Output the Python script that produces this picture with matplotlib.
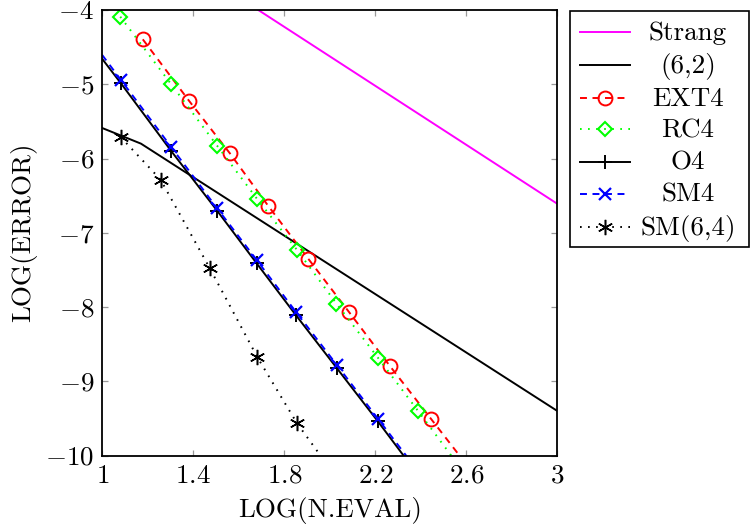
import numpy as np
import matplotlib
matplotlib.use("Agg")
import matplotlib.pyplot as plt
from matplotlib.lines import Line2D
from matplotlib.patches import Rectangle

# ---- data (x = log10 of evaluations, y = log10 of error)
strang_x = [1.60, 3.00]
strang_y = [-3.83, -6.61]

s62_x = [1.00, 1.17, 3.00]
s62_y = [-5.59, -5.80, -9.40]

ext4_x = [1.178, 1.382, 1.561, 1.730, 1.905, 2.086, 2.265, 2.444, 2.623]
ext4_y = [-4.395, -5.226, -5.931, -6.641, -7.349, -8.074, -8.798, -9.503, -10.21]

rc4_x = [1.079, 1.303, 1.505, 1.681, 1.855, 2.029, 2.211, 2.389, 2.565]
rc4_y = [-4.090, -5.001, -5.829, -6.547, -7.228, -7.953, -8.681, -9.404, -10.13]

o4_x = [0.90, 1.082, 1.302, 1.505, 1.679, 1.851, 2.030, 2.211, 2.39]
o4_y = [-4.26, -4.988, -5.896, -6.704, -7.414, -8.110, -8.820, -9.539, -10.27]

sm4_x = [0.90, 1.082, 1.302, 1.505, 1.679, 1.851, 2.030, 2.211, 2.39]
sm4_y = [-4.20, -4.943, -5.842, -6.672, -7.369, -8.066, -8.777, -9.503, -10.22]

sm64_x = [1.081, 1.256, 1.473, 1.681, 1.855, 2.03]
sm64_y = [-5.712, -6.284, -7.481, -8.673, -9.562, -10.30]

xticks = [1, 1.4, 1.8, 2.2, 2.6, 3]
xtick_labels = ["$1$", "$1.4$", "$1.8$", "$2.2$", "$2.6$", "$3$"]
yticks = [-10, -9, -8, -7, -6, -5, -4]
ytick_labels = ["$-10$", "$-9$", "$-8$", "$-7$", "$-6$", "$-5$", "$-4$"]

names = ["Strang", "(6,2)", "EXT4", "RC4", "O4", "SM4", "SM(6,4)"]

# ---- style
plt.rcParams['font.family'] = 'cmr10'
plt.rcParams['mathtext.fontset'] = 'cm'
plt.rcParams['axes.formatter.use_mathtext'] = True
plt.rcParams['lines.scale_dashes'] = False

fs = 19.5
lw = 1.4
dash = (0, (5, 4))
dot = (0, (1.2, 4.6))
aster = (6, 2, 0)

styles = [
  dict(color='#ff00ff', lw=lw, ls='-'),
  dict(color='black', lw=lw, ls='-'),
  dict(color='#ff0000', lw=lw, ls=dash, marker='o', ms=10, mfc='none', mew=1.4),
  dict(color='#00ff00', lw=lw, ls=dot, marker='D', ms=7.5, mfc='none', mew=1.5),
  dict(color='black', lw=lw, ls='-', marker='+', ms=10, mew=1.4),
  dict(color='#0000ff', lw=lw, ls=dash, marker='x', ms=8, mew=1.6),
  dict(color='black', lw=lw, ls=dot, marker=aster, ms=11, mew=1.1),
]
series = [(strang_x, strang_y), (s62_x, s62_y), (ext4_x, ext4_y), (rc4_x, rc4_y),
          (o4_x, o4_y), (sm4_x, sm4_y), (sm64_x, sm64_y)]

W, H = 750, 529
fig = plt.figure(figsize=(W/100, H/100), dpi=100)
ax = fig.add_axes([102.3/W, 1 - 455.5/H, 455/W, 445.5/H])

for (x, y), st in zip(series, styles):
  ax.plot(x, y, **st)

ax.set_xlim(1, 3)
ax.set_ylim(-10, -4)
ax.set_xticks(xticks)
ax.set_xticklabels(xtick_labels)
ax.set_yticks(yticks)
ax.set_yticklabels(ytick_labels)
ax.tick_params(direction='in', length=4, width=0.9, color='#999999',
               top=True, right=True, pad=6, labelsize=fs)
for s in ax.spines.values():
  s.set_linewidth(1.3)
ax.set_xlabel("LOG(N.EVAL)", fontsize=fs, labelpad=7)
ax.set_ylabel("LOG(ERROR)", fontsize=fs, labelpad=6)

# ---- legend drawn by hand (text centred like the original)
def fx(px): return px / W
def fy(py): return 1 - py / H

fig.add_artist(Rectangle((fx(570), fy(247)), fx(749) - fx(570), fy(10.7) - fy(247),
                         transform=fig.transFigure, fill=False, lw=1.2, ec='black'))
rows = [32.3, 65, 97.7, 129, 162, 193.5, 226.5]
for name, st, yy in zip(names, styles, rows):
  fig.add_artist(Line2D([fx(580), fx(605), fx(630)], [fy(yy)]*3, transform=fig.transFigure,
                        markevery=[1], **st))
  fig.text(fx(688), fy(yy + 8), name, ha='center', va='baseline', fontsize=fs)

fig.savefig("out.png", dpi=100)
